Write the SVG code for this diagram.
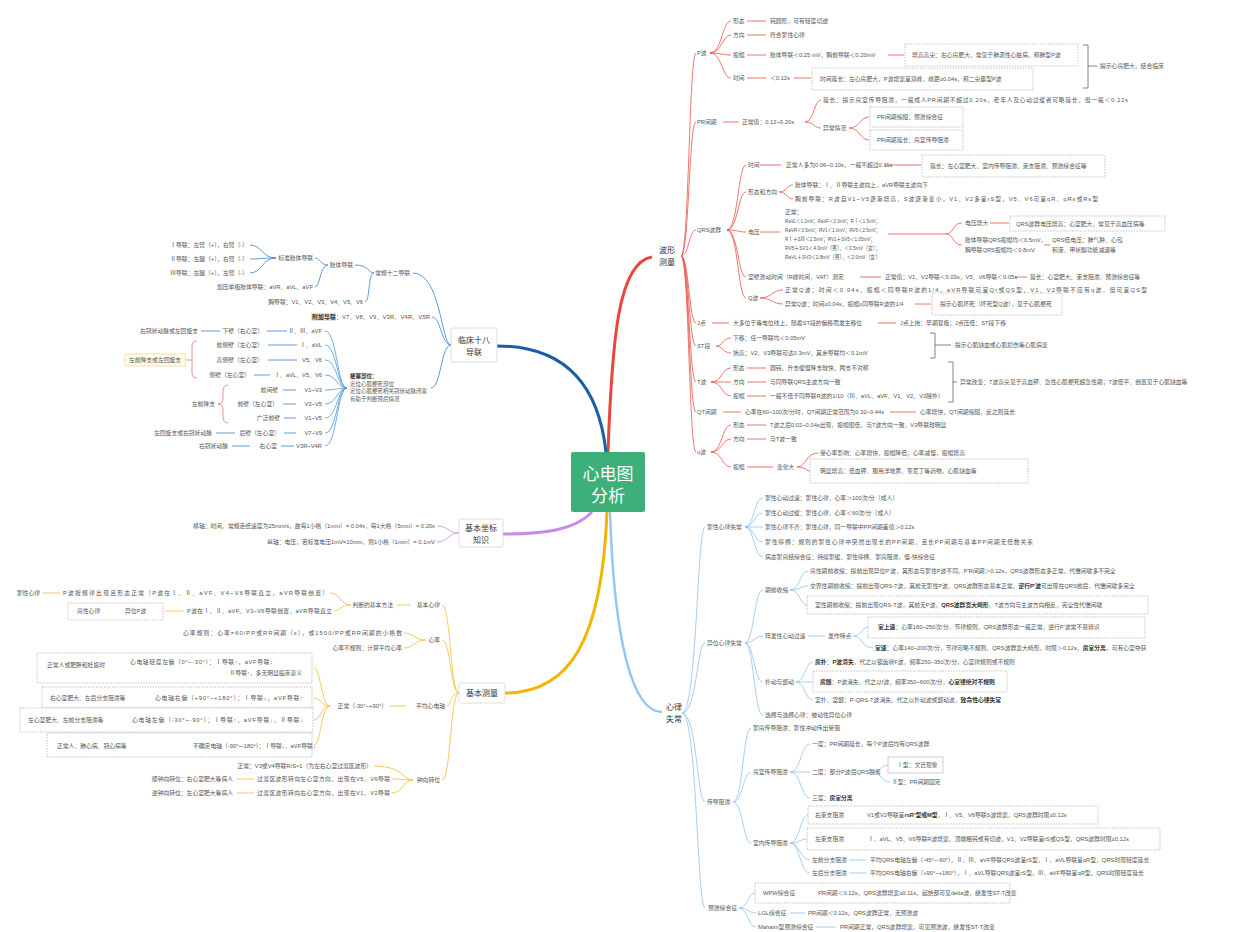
<svg xmlns="http://www.w3.org/2000/svg" width="1252" height="932" viewBox="0 0 1252 932">
<style>
text{font-family:'Liberation Sans','Noto Sans CJK SC',sans-serif;dominant-baseline:central}
.t{font-size:5.8px;fill:#555}
.e{text-anchor:end}
.b{font-weight:bold;fill:#333}
.n{font-size:8px;fill:#333;text-anchor:middle}
.s{font-size:5.5px;fill:#555}
.box{fill:#fff;stroke:#aaa;stroke-width:.7;stroke-dasharray:1.5 1.2}
.nb{fill:#fff;stroke:#d6d6d6;stroke-width:.8}
.c{fill:none;stroke-width:.8}
.r{stroke:#e9544a}
.bl{stroke:#3b7fd0}
.p{stroke:#c58ae8}
.o{stroke:#f3bd33}
.lb{stroke:#8fc3ee}
.g{stroke:#666}
</style>
<rect width="1252" height="932" fill="#fff"/>

<g id="connectors">
<path d="M608 452 C612 340 618 262 652 257" fill="none" stroke="#e8473c" stroke-width="3"/>
<path d="M606 452 C598 380 560 346 497 346" fill="none" stroke="#1a5ea8" stroke-width="3"/>
<path d="M592 512 C575 530 545 534 503 534" fill="none" stroke="#c78bea" stroke-width="3"/>
<path d="M607 512 C602 640 570 693 505 693" fill="none" stroke="#f4b400" stroke-width="3"/>
<path d="M610 512 C614 640 632 712 662 712" fill="none" stroke="#92c8f3" stroke-width="2.5"/>

<g class="c r">
<path d="M681 256 C689 256 689 53 696 53"/>
<path d="M681 256 C689 256 689 122 696 122"/>
<path d="M681 256 C689 256 689 230 696 230"/>
<path d="M681 256 C689 256 689 323 696 323"/>
<path d="M681 256 C689 256 689 346 696 346"/>
<path d="M681 256 C689 256 689 382 696 382"/>
<path d="M681 256 C689 256 689 412 696 412"/>
<path d="M681 256 C689 256 689 452 696 452"/>
<path d="M710 53 C722 53 722 21 731 21"/>
<path d="M710 53 C722 53 722 35 731 35"/>
<path d="M710 53 C722 53 722 55 731 55"/>
<path d="M710 53 C722 53 722 78 731 78"/>
<path d="M747 21H766M747 35H766M747 55H766M747 78H766M888 55H904M794 78H811"/>
<path d="M723 122H739M805 122 C814 122 814 100 821 100M805 122 C814 122 814 128 821 128"/>
<path d="M849 128 C860 128 860 117 869 117M849 128 C860 128 860 140 869 140"/>
<path d="M727 230 C738 230 738 165 746 165M727 230 C738 230 738 192 746 192M727 230 C738 230 738 232 746 232M727 230 C738 230 738 277 746 277M727 230 C738 230 738 298 746 298"/>
<path d="M760 165H781M884 165H921M779 192 C787 192 787 185 793 185M779 192 C787 192 787 199 793 199M760 232H780"/>
<path d="M888 234H946 C954 234 952 223 962 223M946 234 C954 234 952 245 962 245M990 223H1009M1044 245H1050"/>
<path d="M860 277H881M1015 277H1027M760 298 C772 298 772 290 783 290M760 298 C772 298 772 304 783 304M915 304H931"/>
<path d="M712 323H729M878 323H896M716 346 C723 346 723 338 731 338M716 346 C723 346 723 353 731 353"/>
<path d="M711 382 C722 382 722 368 731 368M711 382 C722 382 722 382 731 382M711 382 C722 382 722 396 731 396M747 368H766M747 382H766M747 396H766"/>
<path d="M723 412H741M890 412H916"/>
<path d="M711 452 C722 452 722 425 731 425M711 452 C722 452 722 439 731 439M711 452 C722 452 722 467 731 467M747 425H766M747 439H766M747 467H773"/>
<path d="M797 467 C806 467 806 453 818 453M797 467 C806 467 806 471 810 471"/>
</g>
<g class="c g" stroke-width=".7">
<path d="M1083 45H1088V88H1083M1088 66H1097"/>
<path d="M930 333H935V358H930M935 345H951"/>
<path d="M948 362H953V402H948M953 382H957"/>
</g>

<g class="c bl">
<path d="M451 345 C441 345 441 273 413 273M451 345 C441 345 441 317 432 317M451 345 C441 345 441 388 431 388"/>
<path d="M374 273 C368 273 369 265 355 265M374 273 C368 273 370 302 365 302"/>
<path d="M328 265 C320 265 320 258 315 258M328 265 C320 265 320 287 315 287"/>
<path d="M276 258 C262 258 262 245 250 245M276 258 C262 258 262 259 250 259M276 258 C262 258 262 273 250 273"/>
<path d="M267 331H287M201 331H220M268 345H297M268 360H297M254 375H270M283 390H296M283 404H296M284 418H296M284 433H296M216 433H235M281 446H294M232 446H250"/>
</g>
<g class="c" stroke="#4a9be0" stroke-width="1.1">
<path d="M325 331 C337 331 337 388 347 388M325 345 C337 345 337 388 347 388M325 360 C337 360 337 388 347 388M325 375 C337 375 337 388 347 388M325 390 C337 390 337 388 347 388M325 404 C337 404 337 388 347 388M325 418 C337 418 337 388 347 388M325 433 C337 433 337 388 347 388M325 446 C337 446 337 388 347 388"/>
</g>
<g class="c" stroke="#e57373" stroke-width=".8">
<path d="M197 341 Q192 341 192 346V373 Q192 378 197 378M192 360H186"/>
<path d="M228 385 Q223 385 223 392V398 Q223 404 218 404 Q223 404 223 410V416 Q223 423 228 423"/>
</g>

<g class="c p">
<path d="M459 533 C448 533 448 526 437 526M459 533 C448 533 448 542 437 542"/>
</g>

<g class="c o">
<path d="M459 693 C450 693 451 605 442 605M459 693 C450 693 451 640 442 640M459 693 C450 693 451 706 447 706M459 693 C450 693 451 780 442 780"/>
<path d="M397 605H410M351 605 C340 605 340 593 330 593M351 605 C340 605 340 611 334 611M43 593H60M110 611H122M165 611H184"/>
<path d="M426 640 C414 640 414 633 404 633M426 640 C414 640 414 648 404 648"/>
<path d="M390 706H406M330 706 C321 706 321 668 314 668M330 706 C321 706 321 698 314 698M330 706 C321 706 321 720 314 720M330 706 C321 706 321 745 314 745"/>
<path d="M113 665H128M137 698H152M115 720H130M130 746H190"/>
<path d="M413 780 C403 780 403 766 374 766M413 780 C403 780 403 779 392 779M413 780 C403 780 403 793 392 793M237 779H254M237 793H254"/>
</g>

<g class="c lb">
<path d="M682 713 C697 713 697 527 705 527M682 713 C697 713 697 643 705 643M682 713 C697 713 697 802 705 802M682 713 C697 713 697 908 705 908"/>
<path d="M745 527 C754 527 754 498 763 498M745 527 C754 527 754 513 763 513M745 527 C754 527 754 527 763 527M745 527 C754 527 754 542 763 542M745 527 C754 527 754 557 763 557"/>
<path d="M745 643 C754 643 754 590 763 590M745 643 C754 643 754 636 763 636M745 643 C754 643 754 682 763 682M745 643 C754 643 754 715 763 715"/>
<path d="M790 590 C800 590 800 571 808 571M790 590 C800 590 800 586 808 586M790 590 C800 590 800 605 807 605"/>
<path d="M808 636H825M853 636 C862 636 862 627 868 627M853 636 C862 636 862 648 873 648"/>
<path d="M796 682 C805 682 805 662 813 662M796 682 C805 682 805 682 813 682M796 682 C805 682 805 700 813 700"/>
<path d="M733 802 C743 802 743 728 751 728M733 802 C743 802 743 772 751 772M733 802 C743 802 743 843 751 843"/>
<path d="M790 772 C801 772 801 744 810 744M790 772 C801 772 801 772 810 772M790 772 C801 772 801 798 810 798"/>
<path d="M873 772 C881 772 881 765 888 765M873 772 C881 772 881 782 890 782"/>
<path d="M790 843 C800 843 800 815 808 815M790 843 C800 843 800 839 807 839M790 843 C800 843 800 860 810 860M790 843 C800 843 800 873 810 873"/>
<path d="M847 815H864M847 839H865M849 860H866M849 873H866"/>
<path d="M739 908 C748 908 748 893 755 893M739 908 C748 908 748 913 756 913M739 908 C748 908 748 927 756 927"/>
<path d="M796 893H815M790 913H805M816 927H836"/>
</g>
</g>

<g id="center">
<rect x="571" y="452" width="74" height="60" rx="2" fill="#3daf78"/>
<text x="608" y="474" font-size="17" fill="#fff" text-anchor="middle">心电图</text>
<text x="608" y="496" font-size="17" fill="#fff" text-anchor="middle">分析</text>
</g>

<g id="n-bxcl"><text class="n" x="667" y="250" font-size="7.5">波形</text><text class="n" x="667" y="262" font-size="7.5">测量</text></g>
<g id="n-p">
<text class="t" x="697" y="53">P波</text>
<text class="t" x="733" y="21">形态</text><text class="t" x="770" y="21">钝圆形，可有轻度切迹</text>
<text class="t" x="733" y="35">方向</text><text class="t" x="770" y="35">符合窦性心律</text>
<text class="t" x="733" y="55">振幅</text><text class="t" x="770" y="55">肢体导联＜0.25 mV，胸前导联＜0.20mV</text>
<rect class="box" x="905" y="44" width="173" height="22"/><text class="t" x="912" y="55">增高高尖：右心房肥大，常见于肺源性心脏病，称肺型P波</text>
<text class="t" x="733" y="78">时间</text><text class="t" x="770" y="78">＜0.12s</text>
<rect class="box" x="812" y="68" width="221" height="22"/><text class="t" x="820" y="79">时间延长：左心房肥大，P波增宽呈双峰，峰距≥0.04s，称二尖瓣型P波</text>
<text class="t" x="1100" y="66">提示心房肥大，结合临床</text>
</g>
<g id="n-pr">
<text class="t" x="697" y="122">PR间期</text>
<text class="t" x="742" y="122">正常值：0.12~0.20s</text>
<text class="t" x="823" y="100" textLength="305">延长：提示房室传导阻滞，一般成人PR间期不超过0.20s，老年人及心动过缓者可略延长，但一般＜0.22s</text>
<text class="t" x="823" y="128">异常情况</text>
<rect class="box" x="870" y="107" width="93" height="20"/><text class="t" x="877" y="117">PR间期缩短：预激综合征</text>
<rect class="box" x="870" y="130" width="93" height="20"/><text class="t" x="877" y="140">PR间期延长：房室传导阻滞</text>
</g>
<g id="n-qrs">
<text class="t" x="697" y="230">QRS波群</text>
<text class="t" x="748" y="165">时间</text><text class="t" x="786" y="165">正常人多为0.06~0.10s，一般不超过0.11s</text>
<rect class="box" x="922" y="155" width="183" height="22"/><text class="t" x="930" y="166">延长：左心室肥大、室内传导阻滞、束支阻滞、预激综合征等</text>
<text class="t" x="748" y="192">形态和方向</text>
<text class="t" x="795" y="185">肢体导联：Ⅰ、Ⅱ导联主波向上，aVR导联主波向下</text>
<text class="t" x="795" y="199" textLength="303">胸前导联：R波自V1~V5逐渐增高，S波逐渐变小，V1、V2多呈rS型，V5、V6可呈qR、qRs或Rs型</text>
<text class="t" x="748" y="232">电压</text>
<text class="t" x="785" y="212">正常：</text>
<text class="t" x="785" y="221" textLength="95" lengthAdjust="spacingAndGlyphs">RaVL＜1.2mV；RaVF＜2.0mV；RⅠ＜1.5mV；</text>
<text class="t" x="785" y="230" textLength="95" lengthAdjust="spacingAndGlyphs">RaVR＜0.5mV；RV1＜1.0mV；RV5＜2.5mV；</text>
<text class="t" x="785" y="239" textLength="90" lengthAdjust="spacingAndGlyphs">RⅠ＋SⅢ＜2.5mV；RV1＋SV5＜1.05mV；</text>
<text class="t" x="785" y="248" textLength="95" lengthAdjust="spacingAndGlyphs">RV5＋SV1＜4.0mV（男），＜3.5mV（女）；</text>
<text class="t" x="785" y="257" textLength="95" lengthAdjust="spacingAndGlyphs">RaVL＋SV3＜2.8mV（男），＜2.0mV（女）</text>
<text class="t" x="965" y="223">电压增大</text>
<rect class="box" x="1010" y="216" width="155" height="15"/><text class="t" x="1016" y="223.5">QRS波群电压增高：心室肥大，常见于高血压病等</text>
<text class="t" x="965" y="240">肢体导联QRS振幅均＜0.5mV，</text><text class="t" x="965" y="250">胸导联QRS振幅均＜0.8mV</text>
<text class="t" x="1052" y="240">QRS低电压：肺气肿、心包</text><text class="t" x="1052" y="250">积液、甲状腺功能减退等</text>
<text class="t" x="748" y="277">室壁激动时间（R峰时间，VAT）测定</text>
<text class="t" x="885" y="277">正常值：V1、V2导联＜0.03s，V5、V6导联＜0.05s</text>
<text class="t" x="1030" y="277">延长：心室肥大、束支阻滞、预激综合征等</text>
<text class="t" x="748" y="298">Q波</text>
<text class="t" x="785" y="290" textLength="362">正常Q波：时间＜0.04s，振幅＜同导联R波的1/4，aVR导联可呈Qr或QS型，V1、V2导联不应有q波，但可呈QS型</text>
<text class="t" x="785" y="304">异常Q波：时间≥0.04s，振幅≥同导联R波的1/4</text>
<rect class="box" x="932" y="293" width="130" height="22"/><text class="t" x="940" y="304">提示心肌坏死（坏死型Q波），见于心肌梗死</text>
</g>
<g id="n-j">
<text class="t" x="697" y="323">J点</text>
<text class="t" x="733" y="323">大多位于等电位线上，随着ST段的偏移而发生移位</text>
<text class="t" x="900" y="323">J点上抬：早期复极；J点压低：ST段下移</text>
</g>
<g id="n-st">
<text class="t" x="697" y="346">ST段</text>
<text class="t" x="733" y="338">下移：任一导联均＜0.05mV</text>
<text class="t" x="733" y="353">抬高：V2、V3导联可达0.3mV，其余导联均＜0.1mV</text>
<text class="t" x="955" y="345">提示心肌缺血或心肌损伤等心肌病变</text>
</g>
<g id="n-t">
<text class="t" x="697" y="382">T波</text>
<text class="t" x="733" y="368">形态</text><text class="t" x="770" y="368">圆钝，升支缓慢降支较快，两支不对称</text>
<text class="t" x="733" y="382">方向</text><text class="t" x="770" y="382">与同导联QRS主波方向一致</text>
<text class="t" x="733" y="396">振幅</text><text class="t" x="770" y="396">一般不低于同导联R波的1/10（Ⅲ、aVL、aVF、V1、V2、V3除外）</text>
<text class="t" x="960" y="382">异常改变：T波高尖见于高血钾、急性心肌梗死超急性期；T波低平、倒置见于心肌缺血等</text>
</g>
<g id="n-qt">
<text class="t" x="697" y="412">QT间期</text>
<text class="t" x="745" y="412">心率在60~100次/分时，QT间期正常范围为0.32~0.44s</text>
<text class="t" x="920" y="412">心率增快，QT间期缩短，反之则延长</text>
</g>
<g id="n-u">
<text class="t" x="697" y="452">u波</text>
<text class="t" x="733" y="425">形态</text><text class="t" x="770" y="425">T波之后0.02~0.04s出现，振幅很低，与T波方向一致，V3导联较明显</text>
<text class="t" x="733" y="439">方向</text><text class="t" x="770" y="439">与T波一致</text>
<text class="t" x="733" y="467">振幅</text><text class="t" x="777" y="467">变化大</text>
<text class="t" x="820" y="453">受心率影响：心率增快，振幅降低；心率减慢，振幅增高</text>
<rect class="box" x="810" y="459" width="218" height="24"/><text class="t" x="820" y="471">明显增高：低血钾、服用洋地黄、奎尼丁等药物，心肌缺血等</text>
</g>

<g id="n-lead18">
<rect class="nb" x="451" y="328" width="46" height="34" rx="2"/>
<text class="n" x="474" y="340">临床十八</text><text class="n" x="474" y="352">导联</text>
</g>
<g id="n-12lead">
<text class="t e" x="410" y="273">常规十二导联</text>
<text class="t e" x="353" y="265">肢体导联</text>
<text class="t e" x="313" y="258">标准肢体导联</text>
<text class="t e" x="248" y="245">Ⅰ导联：左臂（+），右臂（-）</text>
<text class="t e" x="248" y="259">Ⅱ导联：左腿（+），右臂（-）</text>
<text class="t e" x="248" y="273">Ⅲ导联：左腿（+），左臂（-）</text>
<text class="t e" x="313" y="287">加压单极肢体导联：aVR、aVL、aVF</text>
<text class="t e" x="363" y="302">胸导联：V1、V2、V3、V4、V5、V6</text>
</g>
<g id="n-extra">
<rect x="311" y="313" width="25" height="8" fill="#e2e2e2"/>
<text class="t" x="312" y="317" textLength="118"><tspan class="b">附加导联</tspan>：V7、V8、V9、V3R、V4R、V5R</text>
</g>
<g id="n-mi">
<text class="s" x="350" y="376"><tspan class="b">梗塞部位：</tspan></text>
<text class="s" x="350" y="384">定位心肌梗死部位</text>
<text class="s" x="350" y="391">定位心肌梗死相关冠状动脉闭塞</text>
<text class="s" x="350" y="399">有助于判断预后情况</text>
<text class="t e" x="322" y="331">Ⅱ、Ⅲ、aVF</text><text class="t e" x="263" y="331">下壁（右心室）</text><text class="t e" x="198" y="331">右冠状动脉或左回旋支</text>
<text class="t e" x="322" y="345">Ⅰ、aVL</text><text class="t e" x="263" y="345">前侧壁（左心室）</text>
<text class="t e" x="322" y="360">V5、V6</text><text class="t e" x="263" y="360">高侧壁（左心室）</text>
<text class="t e" x="322" y="375">Ⅰ、aVL、V5、V6</text><text class="t e" x="250" y="375">侧壁（左心室）</text>
<text class="t e" x="322" y="390">V1~V3</text><text class="t e" x="278" y="390">前间壁</text>
<text class="t e" x="322" y="404">V3~V5</text><text class="t e" x="278" y="404">前壁（左心室）</text>
<text class="t e" x="322" y="418">V1~V5</text><text class="t e" x="280" y="418">广泛前壁</text>
<text class="t e" x="322" y="433">V7~V9</text><text class="t e" x="280" y="433">后壁（左心室）</text><text class="t e" x="212" y="433">左回旋支或右冠状动脉</text>
<text class="t e" x="322" y="446">V3R~V4R</text><text class="t e" x="277" y="446">右心室</text><text class="t e" x="228" y="446">右冠状动脉</text>
<rect x="125" y="354" width="60" height="12" fill="#fffdf0" stroke="#f0d27a" stroke-width=".7"/>
<text class="t" x="155" y="360" text-anchor="middle">左前降支或左回旋支</text>
<text class="t e" x="215" y="404">左前降支</text>
</g>

<g id="n-axis">
<rect class="nb" x="459" y="519" width="44" height="28" rx="2"/>
<text class="n" x="481" y="528">基本坐标</text><text class="n" x="481" y="540">知识</text>
<text class="t e" x="435" y="526">横轴：时间，常规走纸速度为25mm/s，故每1小格（1mm）= 0.04s，每1大格（5mm）= 0.20s</text>
<text class="t e" x="435" y="542">纵轴：电压，若标准电压1mV=10mm，则1小格（1mm）= 0.1mV</text>
</g>

<g id="n-measure">
<rect class="nb" x="459" y="683" width="46" height="20" rx="2"/>
<text class="n" x="482" y="693">基本测量</text>
</g>
<g id="n-rhythm">
<text class="t e" x="440" y="605">基本心律</text>
<text class="t e" x="393" y="605">判断的基本方法</text>
<text class="t e" x="40" y="593">窦性心律</text>
<text class="t" x="63" y="593" textLength="265">P波按规律出现且形态正常（P波在Ⅰ、Ⅱ、aVF、V4~V6导联直立，aVR导联倒置）</text>
<rect class="box" x="68" y="603" width="95" height="17"/>
<text class="t" x="77" y="611">房性心律</text><text class="t" x="125" y="611">异位P波</text>
<text class="t" x="187" y="611" textLength="145">P波在Ⅰ、Ⅱ、aVF、V3~V6导联倒置，aVR导联直立</text>
</g>
<g id="n-rate">
<text class="t e" x="440" y="640">心率</text>
<text class="t" x="183" y="633" textLength="219">心率规则：心率=60/PP或RR间期（s），或1500/PP或RR间期的小格数</text>
<text class="t e" x="402" y="648">心率不规则：计算平均心率</text>
</g>
<g id="n-axisdev">
<text class="t e" x="445" y="706">平均心电轴</text>
<text class="t e" x="387" y="706">正常（-30°~+90°）</text>
<rect class="box" x="37" y="653" width="275" height="30"/>
<text class="t" x="47" y="665">正常人或肥胖和妊娠时</text>
<text class="t" x="130" y="662" textLength="143">心电轴轻度左偏（0°~-30°）：Ⅰ导联↑，aVF导联↓</text>
<text class="t e" x="302" y="673">Ⅱ导联↑，多无明显临床意义</text>
<rect class="box" x="42" y="687" width="270" height="21"/>
<text class="t" x="50" y="698">右心室肥大、左后分支阻滞等</text>
<text class="t" x="155" y="698" textLength="148">心电轴右偏（+90°~+180°）：Ⅰ导联↓，aVF导联↑</text>
<rect class="box" x="20" y="708" width="293" height="24"/>
<text class="t" x="28" y="720">左心室肥大、左前分支阻滞等</text>
<text class="t" x="132" y="720" textLength="171">心电轴左偏（-30°~-90°）：Ⅰ导联↑，aVF导联↓，Ⅱ导联↓</text>
<rect class="box" x="47" y="733" width="265" height="24"/>
<text class="t" x="57" y="746">正常人、肺心病、冠心病等</text>
<text class="t" x="193" y="746">不确定电轴（-90°~-180°）：Ⅰ导联↓，aVF导联↓</text>
</g>
<g id="n-rotation">
<text class="t e" x="440" y="780">钟向转位</text>
<text class="t e" x="372" y="766">正常：V3或V4导联R/S≈1（为左右心室过渡区波形）</text>
<text class="t e" x="233" y="779">顺钟向转位：右心室肥大等病人</text>
<text class="t" x="257" y="779" textLength="133">过渡区波形转向左心室方向，出现在V5、V6导联</text>
<text class="t e" x="233" y="793">逆钟向转位：左心室肥大等病人</text>
<text class="t" x="257" y="793" textLength="133">过渡区波形转向右心室方向，出现在V1、V2导联</text>
</g>

<g id="n-arr"><text class="n" x="674" y="707" font-size="7.5">心律</text><text class="n" x="674" y="719" font-size="7.5">失常</text></g>
<g id="n-sinus">
<text class="t" x="707" y="527">窦性心律失常</text>
<text class="t" x="765" y="498">窦性心动过速：窦性心律，心率＞100次/分（成人）</text>
<text class="t" x="765" y="513">窦性心动过缓：窦性心律，心率＜60次/分（成人）</text>
<text class="t" x="765" y="527">窦性心律不齐：窦性心律，同一导联中PP间期差值＞0.12s</text>
<text class="t" x="765" y="542" textLength="268">窦性停搏：规则的窦性心律中突然出现长的PP间期，且长PP间期与基本PP间期无倍数关系</text>
<text class="t" x="765" y="557">病态窦房结综合征：持续窦缓、窦性停搏、窦房阻滞，慢-快综合征</text>
</g>
<g id="n-ectopic">
<text class="t" x="707" y="643">异位心律失常</text>
<text class="t" x="765" y="590">期前收缩</text>
<text class="t" x="810" y="571">房性期前收缩：提前出现异位P'波，其形态与窦性P波不同，P'R间期＞0.12s，QRS波群形态多正常，代偿间歇多不完全</text>
<text class="t" x="810" y="586">交界性期前收缩：提前出现QRS-T波，其前无窦性P波，QRS波群形态基本正常，<tspan class="b">逆行P'波</tspan>可出现在QRS前后，代偿间歇多完全</text>
<rect class="box" x="807" y="596" width="341" height="18"/>
<text class="t" x="815" y="605">室性期前收缩：提前出现QRS-T波，其前无P波，<tspan class="b">QRS波群宽大畸形</tspan>，T波方向与主波方向相反，完全性代偿间歇</text>
<text class="t" x="765" y="636">阵发性心动过速</text>
<text class="t" x="828" y="636">发作特点</text>
<rect class="box" x="868" y="617" width="277" height="21"/>
<text class="t" x="878" y="627"><tspan class="b">室上速</tspan>：心率160~250次/分，节律规则，QRS波群形态一般正常，逆行P'波常不易辨识</text>
<text class="t" x="875" y="648"><tspan class="b">室速</tspan>：心率140~200次/分，节律可略不规则，QRS波群宽大畸形，时限＞0.12s，<tspan class="b">房室分离</tspan>，可有心室夺获</text>
<text class="t" x="765" y="682">扑动与颤动</text>
<text class="t" x="815" y="662"><tspan class="b">房扑</tspan>：<tspan class="b">P波消失</tspan>，代之以锯齿状F波，频率250~350次/分，心室律规则或不规则</text>
<rect class="box" x="813" y="671" width="194" height="21"/>
<text class="t" x="820" y="682"><tspan class="b">房颤</tspan>：P波消失，代之以f波，频率350~600次/分，<tspan class="b">心室律绝对不规则</tspan></text>
<text class="t" x="815" y="700">室扑、室颤：P-QRS-T波消失，代之以扑动波或颤动波，<tspan class="b">致命性心律失常</tspan></text>
<text class="t" x="765" y="715">逸搏与逸搏心律：被动性异位心律</text>
</g>
<g id="n-block">
<text class="t" x="707" y="802">传导阻滞</text>
<text class="t" x="753" y="728">窦房传导阻滞：窦性冲动传出受阻</text>
<text class="t" x="753" y="772">房室传导阻滞</text>
<text class="t" x="812" y="744">一度：PR间期延长，每个P波后均有QRS波群</text>
<text class="t" x="812" y="772">二度：部分P波后QRS脱落</text>
<rect x="888" y="757" width="55" height="16" fill="#fff" stroke="#bbb" stroke-width=".7"/>
<text class="t" x="897" y="765">Ⅰ型：文氏现象</text>
<text class="t" x="892" y="782">Ⅱ型：PR间期固定</text>
<text class="t" x="812" y="798">三度：<tspan class="b">房室分离</tspan></text>
<text class="t" x="753" y="843">室内传导阻滞</text>
<rect class="box" x="808" y="806" width="290" height="18"/>
<text class="t" x="815" y="815">右束支阻滞</text>
<text class="t" x="867" y="815">V1或V2导联呈<tspan class="b">rsR'型或M型</tspan>，Ⅰ、V5、V6导联S波增宽，QRS波群时限≥0.12s</text>
<rect class="box" x="807" y="828" width="353" height="22"/>
<text class="t" x="815" y="839">左束支阻滞</text>
<text class="t" x="868" y="839">Ⅰ、aVL、V5、V6导联R波增宽，顶端粗钝或有切迹，V1、V2导联呈rS或QS型，QRS波群时限≥0.12s</text>
<text class="t" x="812" y="860">左前分支阻滞</text>
<text class="t" x="870" y="860">平均QRS电轴左偏（-45°~-90°），Ⅱ、Ⅲ、aVF导联QRS波呈rS型，Ⅰ、aVL导联呈qR型，QRS时限轻度延长</text>
<text class="t" x="812" y="873">左后分支阻滞</text>
<text class="t" x="870" y="873">平均QRS电轴右偏（+90°~+180°），Ⅰ、aVL导联QRS波呈rS型，Ⅲ、aVF导联呈qR型，QRS时限轻度延长</text>
</g>
<g id="n-preex">
<text class="t" x="708" y="908">预激综合征</text>
<rect class="box" x="755" y="883" width="255" height="20"/>
<text class="t" x="763" y="893">WPW综合征</text>
<text class="t" x="818" y="893">PR间期＜0.12s，QRS波群增宽≥0.11s，起始部可见delta波，继发性ST-T改变</text>
<text class="t" x="758" y="913">LGL综合征</text>
<text class="t" x="808" y="913">PR间期＜0.12s，QRS波群正常，无预激波</text>
<text class="t" x="758" y="927">Mahaim型预激综合征</text>
<text class="t" x="840" y="927">PR间期正常，QRS波群增宽，可见预激波，继发性ST-T改变</text>
</g>
</svg>
